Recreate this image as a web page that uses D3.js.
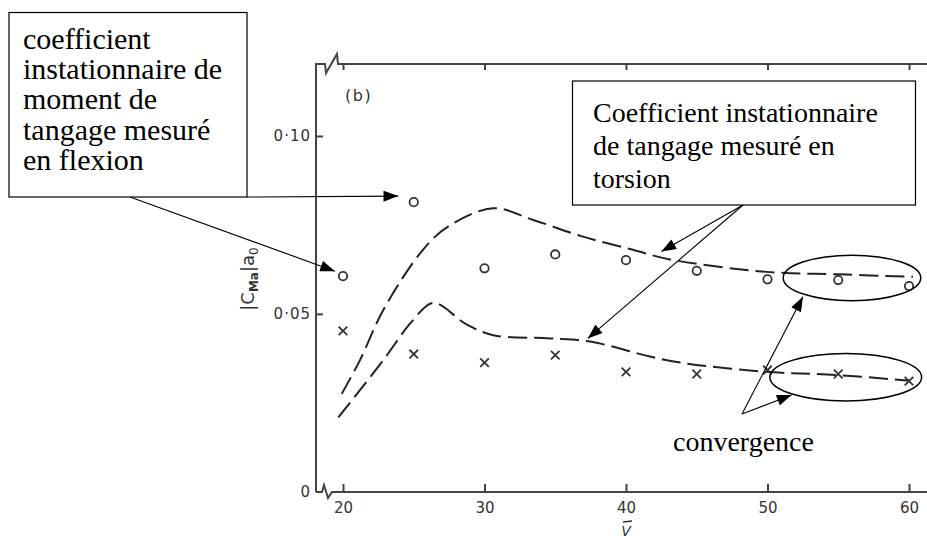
<!DOCTYPE html>
<html><head><meta charset="utf-8">
<script src="https://cdn.jsdelivr.net/npm/d3@7"></script>
<style>html,body{margin:0;padding:0;background:#fff;}svg{display:block;}</style>
</head><body>
<svg id="chart" width="927" height="540"></svg>
<script>
// ---- data ----
const speeds = [20, 25, 30, 35, 40, 45, 50, 55, 60];
const bendingCircles = [0.0606, 0.0814, 0.0628, 0.0667, 0.0651, 0.0621, 0.0597, 0.0595, 0.0578];
const torsionCrosses = [0.0452, 0.0387, 0.0363, 0.0384, 0.0337, 0.0331, 0.0342, 0.0331, 0.0311];
const upperCurveV = [19.91, 21.2, 22.85, 25.65, 27.42, 30.6, 33.45, 36.96, 40.49, 43.11, 49.94, 55.1, 60.28];
const upperCurveC = [0.0275, 0.037, 0.0511, 0.068, 0.0745, 0.0797, 0.0764, 0.0717, 0.068, 0.0653, 0.0618, 0.0611, 0.0604];
const lowerCurveV = [19.67, 22.85, 24.86, 26.38, 28.7, 30.62, 34.63, 37.46, 41.7, 43.82, 49.94, 54.89, 60.07];
const lowerCurveC = [0.0209, 0.037, 0.0478, 0.0531, 0.0471, 0.044, 0.0431, 0.0422, 0.038, 0.0363, 0.0337, 0.0328, 0.0312];
const xTicks = [20, 30, 40, 50, 60];
const yTicks = [0, 0.05, 0.10];
const yTickLabels = ["0", "0·05", "0·10"];
const box1Lines = ["coefficient", "instationnaire de", "moment de", "tangage mesuré", "en flexion"];
const box2Lines = ["Coefficient instationnaire", "de tangage mesuré en", "torsion"];
const convergenceLabel = "convergence";

const svg = d3.select("#chart");
const X0 = 316, Y0 = 492, YT = 64, XR = 927;
const x = d3.scaleLinear().domain([20, 60]).range([343, 909]);
const y = d3.scaleLinear().domain([0, 0.10]).range([491.7, 136]);
const axisCol = "#444";

svg.append("rect").attr("width", 927).attr("height", 540).attr("fill", "#fff");

const defs = svg.append("defs");
defs.append("marker").attr("id", "ah").attr("viewBox", "0 0 16 12")
  .attr("refX", 16).attr("refY", 6).attr("markerWidth", 16).attr("markerHeight", 11)
  .attr("markerUnits", "userSpaceOnUse").attr("orient", "auto")
  .append("path").attr("d", "M0,0 L16,6 L0,12 Z").attr("fill", "#000");

// ---- frame / axes ----
const frame = svg.append("g").attr("fill", "none").attr("stroke", axisCol).attr("stroke-width", 2);
frame.append("path").attr("d", `M${X0},${Y0} L${X0},${YT} L325,${YT} L326,73 L337,54 L338,${YT} L${XR},${YT}`);
frame.append("path").attr("d", `M${X0},${Y0} L322,${Y0} L324,485 L328,498 L332,${Y0} L${XR},${Y0}`);

// bottom axis ticks (inward) via d3 axis
const xAxisB = d3.axisBottom(x).tickValues(xTicks).tickSize(-8).tickPadding(10).tickFormat(d3.format("d"));
const gB = svg.append("g").attr("transform", `translate(0,${Y0})`).call(xAxisB);
gB.select(".domain").remove();
gB.selectAll(".tick line").attr("stroke", axisCol).attr("stroke-width", 2);
gB.selectAll(".tick text").attr("font-family", "DejaVu Sans").attr("font-size", 15).attr("fill", "#333").attr("dy", "0.35em").attr("y", 16);

const xAxisT = d3.axisTop(x).tickValues(xTicks).tickSize(-6).tickFormat("");
const gT = svg.append("g").attr("transform", `translate(0,${YT})`).call(xAxisT);
gT.select(".domain").remove();
gT.selectAll(".tick line").attr("stroke", axisCol).attr("stroke-width", 2);

const yAxis = d3.axisLeft(y).tickValues(yTicks).tickSize(-7).tickPadding(6)
  .tickFormat((d, i) => yTickLabels[i]);
const gY = svg.append("g").attr("transform", `translate(${X0},0)`).call(yAxis);
gY.select(".domain").remove();
gY.selectAll(".tick line").attr("stroke", axisCol).attr("stroke-width", 2).filter(d => d === 0).remove();
gY.selectAll(".tick text").attr("font-family", "DejaVu Sans").attr("font-size", 15)
  .attr("fill", "#333").attr("letter-spacing", 1).attr("x", -5);

// panel label
svg.append("text").attr("x", 345).attr("y", 101).attr("font-family", "DejaVu Sans")
  .attr("font-size", 16).attr("fill", "#333").attr("letter-spacing", 1.5).text("(b)");

// y label
const yl = svg.append("text").attr("transform", "translate(254,279) rotate(-90)")
  .attr("text-anchor", "middle").attr("font-family", "DejaVu Sans").attr("font-size", 18).attr("fill", "#333");
yl.append("tspan").text("|C");
yl.append("tspan").attr("font-size", 12).attr("dy", 4).attr("font-weight", "bold").text("Ma");
yl.append("tspan").attr("dy", -4).text("|a");
yl.append("tspan").attr("font-size", 12).attr("dy", 4).text("0");

// x label V with bar
svg.append("text").attr("x", x(40)).attr("y", 536).attr("text-anchor", "middle")
  .attr("font-family", "DejaVu Sans").attr("font-size", 14).attr("font-style", "italic").attr("fill", "#333").text("V");
svg.append("line").attr("x1", x(40) - 3).attr("x2", x(40) + 6).attr("y1", 522).attr("y2", 521)
  .attr("stroke", "#333").attr("stroke-width", 1.5);

// ---- dashed curves ----
const line = d3.line().x(d => x(d[0])).y(d => y(d[1])).curve(d3.curveCatmullRom.alpha(0.5));
const curves = [d3.zip(upperCurveV, upperCurveC), d3.zip(lowerCurveV, lowerCurveC)];
svg.append("g").selectAll("path").data(curves).join("path")
  .attr("d", line).attr("fill", "none").attr("stroke", "#222").attr("stroke-width", 2)
  .attr("stroke-dasharray", "19,7");

// ---- markers ----
svg.append("g").selectAll("circle").data(d3.zip(speeds, bendingCircles)).join("circle")
  .attr("cx", d => x(d[0])).attr("cy", d => y(d[1])).attr("r", 4.2)
  .attr("fill", "none").attr("stroke", "#333").attr("stroke-width", 1.8);
const cross = d3.symbol().type(d3.symbolX).size(50);
svg.append("g").selectAll("path").data(d3.zip(speeds, torsionCrosses)).join("path")
  .attr("transform", d => `translate(${x(d[0])},${y(d[1])})`).attr("d", cross)
  .attr("fill", "none").attr("stroke", "#333").attr("stroke-width", 1.8);

// ---- annotations ----
const ann = svg.append("g");
// box 1
ann.append("rect").attr("x", 9).attr("y", 12.5).attr("width", 238).attr("height", 184.5)
  .attr("fill", "#fff").attr("stroke", "#000").attr("stroke-width", 1.2);
ann.append("g").selectAll("text").data(box1Lines).join("text")
  .attr("x", 23).attr("y", (d, i) => 48.5 + i * 30.4)
  .attr("font-family", "Liberation Serif").attr("font-size", 30).attr("fill", "#000").text(d => d);
// box 2
ann.append("rect").attr("x", 572.5).attr("y", 81).attr("width", 343).attr("height", 124)
  .attr("fill", "#fff").attr("stroke", "#000").attr("stroke-width", 1.2);
ann.append("g").selectAll("text").data(box2Lines).join("text")
  .attr("x", 593).attr("y", (d, i) => 121.5 + i * 33)
  .attr("font-family", "Liberation Serif").attr("font-size", 28).attr("fill", "#000").text(d => d);
// convergence label
ann.append("text").attr("x", 673).attr("y", 451).attr("font-family", "Liberation Serif")
  .attr("font-size", 28).attr("fill", "#000").text(convergenceLabel);

// ellipses (data coordinates)
const ellipses = [{v: 55.97, c: 0.0601, rv: 4.86, rc: 0.0064}, {v: 55.53, c: 0.0322, rv: 5.36, rc: 0.00667}];
ann.append("g").selectAll("ellipse").data(ellipses).join("ellipse")
  .attr("cx", d => x(d.v)).attr("cy", d => y(d.c))
  .attr("rx", d => x(d.v + d.rv) - x(d.v)).attr("ry", d => y(d.c - d.rc) - y(d.c))
  .attr("fill", "none").attr("stroke", "#000").attr("stroke-width", 1.5);

// arrows: from pixel origin to data-coordinate tip
const arrows = [
  {x0: 130, y0: 197, v: 19.43, c: 0.0620},
  {x0: 247, y0: 197, v: 23.9, c: 0.0831},
  {x0: 743, y0: 205, v: 42.5, c: 0.0675},
  {x0: 743, y0: 205, v: 37.3, c: 0.0431},
  {x0: 742, y0: 414, v: 52.5, c: 0.0548},
  {x0: 742, y0: 414, v: 51.7, c: 0.0272}
];
ann.append("g").selectAll("line").data(arrows).join("line")
  .attr("x1", d => d.x0).attr("y1", d => d.y0).attr("x2", d => x(d.v)).attr("y2", d => y(d.c))
  .attr("stroke", "#000").attr("stroke-width", 1.1).attr("marker-end", "url(#ah)");
</script>
</body></html>
